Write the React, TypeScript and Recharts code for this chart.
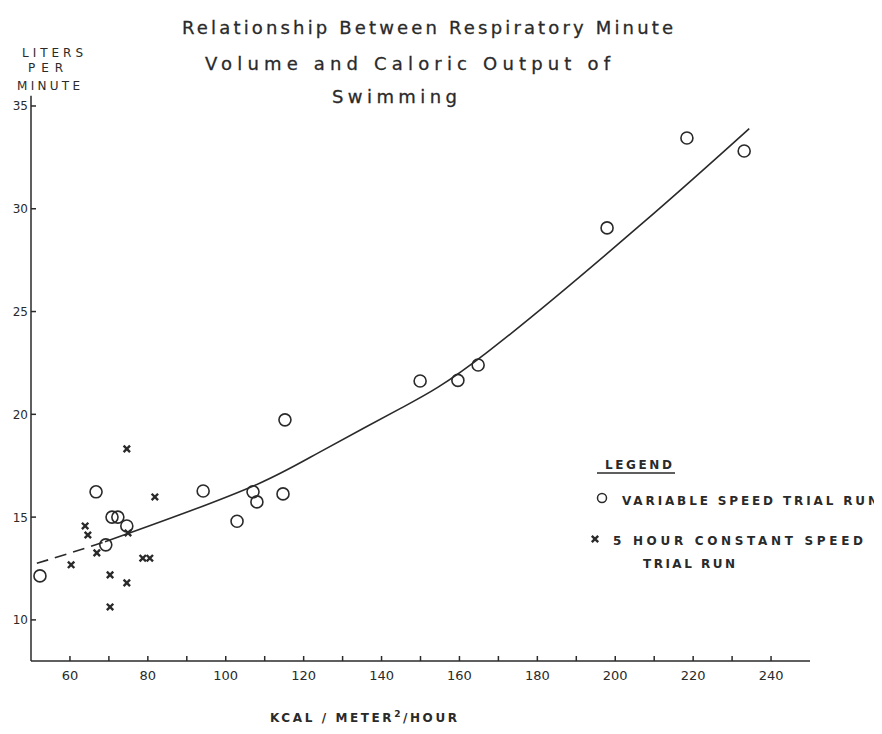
import { ComposedChart, Scatter, Line, XAxis, YAxis, Legend } from "recharts";

// values
const variableSpeed = [
  { x: 52.3, y: 12.14 },
  { x: 66.7, y: 16.23 },
  { x: 69.2, y: 13.65 },
  { x: 70.8, y: 15.0 },
  { x: 72.3, y: 15.0 },
  { x: 74.6, y: 14.57 },
  { x: 94.2, y: 16.27 },
  { x: 102.9, y: 14.8 },
  { x: 107.0, y: 16.23 },
  { x: 108.0, y: 15.74 },
  { x: 114.7, y: 16.13 },
  { x: 115.2, y: 19.73 },
  { x: 149.9, y: 21.62 },
  { x: 159.6, y: 21.65 },
  { x: 164.8, y: 22.4 },
  { x: 197.9, y: 29.07 },
  { x: 218.4, y: 33.44 },
  { x: 233.1, y: 32.81 },
];

const constantSpeed = [
  { x: 74.6, y: 18.32 },
  { x: 81.8, y: 15.98 },
  { x: 63.9, y: 14.57 },
  { x: 64.6, y: 14.13 },
  { x: 66.9, y: 13.26 },
  { x: 60.3, y: 12.68 },
  { x: 70.3, y: 12.19 },
  { x: 78.7, y: 13.0 },
  { x: 80.5, y: 13.0 },
  { x: 70.3, y: 10.63 },
  { x: 74.6, y: 11.8 },
  { x: 74.9, y: 14.23 },
];

// fitted curve, dashed at the low end
const fitDashed = [
  { x: 51.5, y: 12.75 },
  { x: 60, y: 13.25 },
  { x: 69, y: 13.8 },
];
const fitSolid = [
  { x: 69, y: 13.8 },
  { x: 88, y: 15.1 },
  { x: 108.7, y: 16.65 },
  { x: 124, y: 18.15 },
  { x: 145, y: 20.3 },
  { x: 167, y: 23.0 },
  { x: 206.4, y: 29.2 },
  { x: 234.4, y: 33.9 },
];

const xTicks = [60, 70, 80, 90, 100, 110, 120, 130, 140, 150, 160, 170, 180, 190, 200, 210, 220, 230, 240];
const yTicks = [10, 15, 20, 25, 30, 35];

const titleLines = [
  "Relationship Between Respiratory Minute",
  "Volume and Caloric Output of",
  "Swimming",
];
const yLabelLines = ["LITERS", "PER", "MINUTE"];
const legendLabels = ["VARIABLE SPEED TRIAL RUN", "5 HOUR CONSTANT SPEED", "TRIAL RUN"];

const INK = "#2a2a2a";

const XTick = ({ x, y, payload }: any) => {
  const v = payload.value;
  return (
    <g>
      <line x1={x} x2={x} y1={y} y2={y - 5} stroke={INK} strokeWidth={1.5} />
      {v % 20 === 0 && (
        <text x={x} y={y + 19} textAnchor="middle" fontSize={13} fill={INK}>
          {v}
        </text>
      )}
    </g>
  );
};

const YTick = ({ x, y, payload }: any) => (
  <g>
    <line x1={x} x2={x + 5} y1={y} y2={y} stroke={INK} strokeWidth={1.5} />
    <text x={x - 3} y={y + 4.5} textAnchor="end" fontSize={12} fill={INK}>
      {payload.value}
    </text>
  </g>
);

const OpenCircle = ({ cx, cy }: any) => (
  <circle cx={cx} cy={cy} r={6} fill="none" stroke={INK} strokeWidth={1.6} />
);

const Cross = ({ cx, cy }: any) => (
  <path
    d={`M${cx - 3.2},${cy - 3.2}L${cx + 3.2},${cy + 3.2}M${cx + 3.2},${cy - 3.2}L${cx - 3.2},${cy + 3.2}`}
    stroke={INK}
    strokeWidth={2.4}
  />
);

const renderLegend = () => (
  <svg width={297} height={130} style={{ display: "block" }}>
    <text x={20} y={16} fontSize={12} fontWeight="bold" fill={INK} textLength={67} lengthAdjust="spacing">
      LEGEND
    </text>
    <line x1={12} x2={90} y1={20} y2={20} stroke={INK} strokeWidth={1.5} />
    <circle cx={17} cy={45} r={4.5} fill="none" stroke={INK} strokeWidth={1.5} />
    <text x={37} y={52} fontSize={12} fontWeight="bold" fill={INK} textLength={256} lengthAdjust="spacing">
      {legendLabels[0]}
    </text>
    <Cross cx={10} cy={86} />
    <text x={28} y={92} fontSize={12} fontWeight="bold" fill={INK} textLength={250} lengthAdjust="spacing">
      {legendLabels[1]}
    </text>
    <text x={58} y={115} fontSize={12} fontWeight="bold" fill={INK} textLength={92} lengthAdjust="spacing">
      {legendLabels[2]}
    </text>
  </svg>
);

export default function App() {
  return (
    <div style={{ position: "relative", width: 874, height: 718, fontFamily: '"DejaVu Sans", sans-serif', background: "#fff" }}>
      <ComposedChart width={874} height={718} margin={{ top: 87.7, right: 72, bottom: 35, left: 0 }}>
        <XAxis
          type="number"
          dataKey="x"
          domain={[50, 250]}
          ticks={xTicks}
          tick={<XTick />}
          tickSize={0}
          tickMargin={0}
          height={30}
          axisLine={{ stroke: INK, strokeWidth: 1.5 }}
          allowDataOverflow
        />
        <YAxis
          type="number"
          dataKey="y"
          domain={[8, 35.5]}
          ticks={yTicks}
          tick={<YTick />}
          tickSize={0}
          tickMargin={0}
          width={23}
          axisLine={{ stroke: INK, strokeWidth: 1.5 }}
          allowDataOverflow
        />
        <Legend
          layout="vertical"
          align="center"
          verticalAlign="middle"
          content={renderLegend}
          wrapperStyle={{ left: 577, top: 445, width: 297, height: 130 }}
        />
        <Line data={fitDashed} dataKey="y" type="natural" stroke={INK} strokeWidth={1.6} strokeDasharray="12 7" dot={false} isAnimationActive={false} legendType="none" />
        <Line data={fitSolid} dataKey="y" type="natural" stroke={INK} strokeWidth={1.6} dot={false} isAnimationActive={false} legendType="none" />
        <Scatter name={legendLabels[0]} data={variableSpeed} shape={<OpenCircle />} isAnimationActive={false} />
        <Scatter name={legendLabels[1]} data={constantSpeed} shape={<Cross />} isAnimationActive={false} />
      </ComposedChart>
      <svg width={874} height={718} style={{ position: "absolute", left: 0, top: 0, pointerEvents: "none" }}>
        <text x={174} y={25.5} fontSize={18} fill={INK} stroke={INK} strokeWidth={0.3} textLength={491} lengthAdjust="spacing">
          {titleLines[0]}
        </text>
        <text x={197} y={62} fontSize={18} fill={INK} stroke={INK} strokeWidth={0.3} textLength={405} lengthAdjust="spacing">
          {titleLines[1]}
        </text>
        <text x={324} y={95} fontSize={18} fill={INK} stroke={INK} strokeWidth={0.3} textLength={125} lengthAdjust="spacing">
          {titleLines[2]}
        </text>
        <text x={14} y={49} fontSize={12} fill={INK} textLength={61} lengthAdjust="spacing">
          {yLabelLines[0]}
        </text>
        <text x={20} y={64} fontSize={12} fill={INK} textLength={35} lengthAdjust="spacing">
          {yLabelLines[1]}
        </text>
        <text x={9} y={82} fontSize={12} fill={INK} textLength={63} lengthAdjust="spacing">
          {yLabelLines[2]}
        </text>
        <text x={262} y={714} fontSize={12} fontWeight="bold" fill={INK} textLength={187} lengthAdjust="spacing">
          KCAL / METER
          <tspan dy={-5} fontSize={9}>2</tspan>
          <tspan dy={5}>/HOUR</tspan>
        </text>
      </svg>
    </div>
  );
}
